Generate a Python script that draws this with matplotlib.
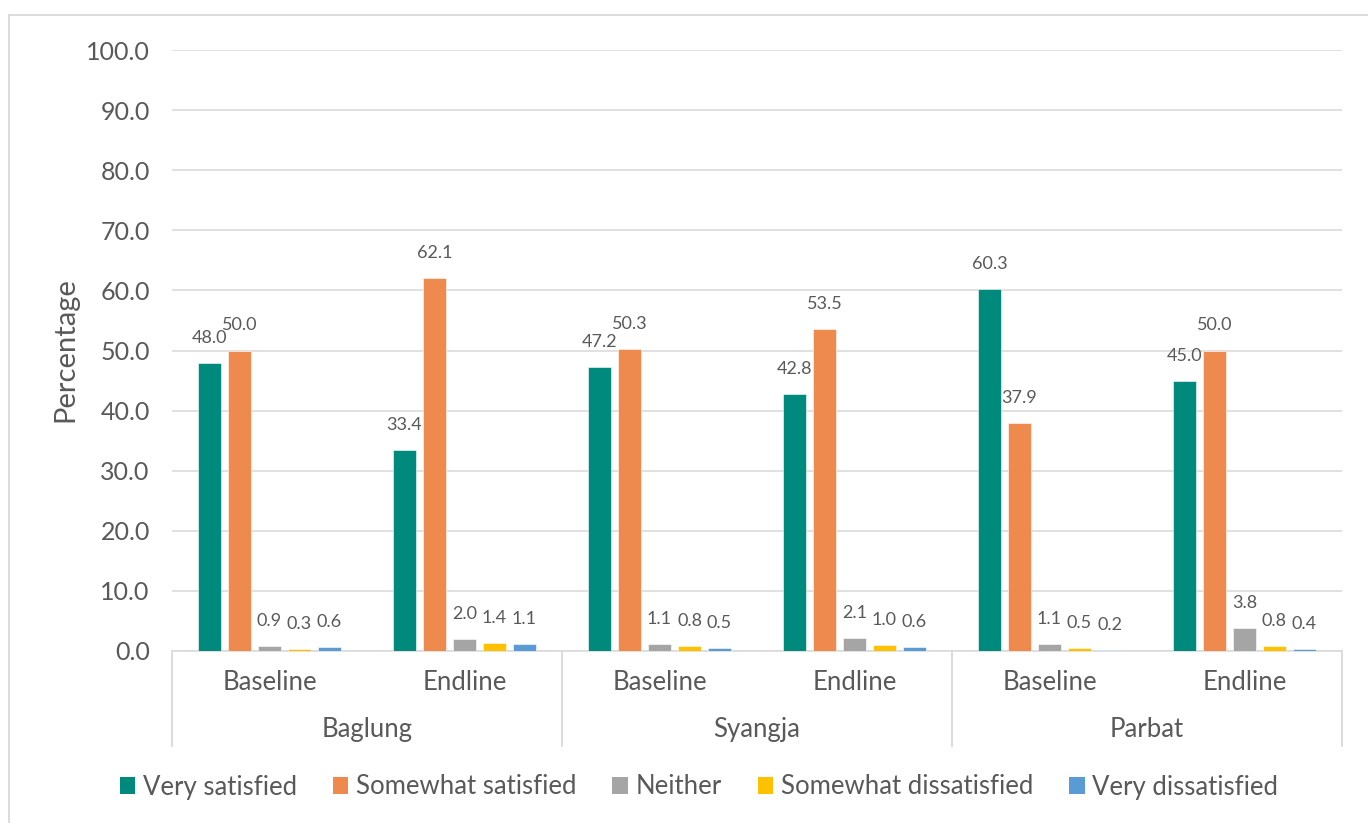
import matplotlib
matplotlib.use("Agg")
import matplotlib.pyplot as plt
from matplotlib.lines import Line2D
from matplotlib.patches import Patch
import matplotlib.transforms as mtransforms
import numpy as np

# ---- data -------------------------------------------------------------
districts = ["Baglung", "Syangja", "Parbat"]
rounds = ["Baseline", "Endline"]
series_names = ["Very satisfied", "Somewhat satisfied", "Neither",
                "Somewhat dissatisfied", "Very dissatisfied"]

very_satisfied = [48.0, 33.4, 47.2, 42.8, 60.3, 45.0]
somewhat_satisfied = [50.0, 62.1, 50.3, 53.5, 37.9, 50.0]
neither = [0.9, 2.0, 1.1, 2.1, 1.1, 3.8]
somewhat_dissatisfied = [0.3, 1.4, 0.8, 1.0, 0.5, 0.8]
very_dissatisfied = [0.6, 1.1, 0.5, 0.6, 0.2, 0.4]

y_ticks = [0, 10, 20, 30, 40, 50, 60, 70, 80, 90, 100]

# ---- style ------------------------------------------------------------
colors = ["#00897D", "#EE8A4E", "#A5A5A5", "#FFC000", "#5B9BD5"]
text_color = "#595959"
grid_color = "#D9D9D9"
plt.rcParams["font.family"] = ["Lato", "DejaVu Sans"]

fig = plt.figure(figsize=(13.68, 8.23), dpi=100)
ax = fig.add_axes([172 / 1368, 1 - 651 / 823, 1170 / 1368, 601 / 823])

all_series = [very_satisfied, somewhat_satisfied, neither,
              somewhat_dissatisfied, very_dissatisfied]
n_cat = len(districts) * len(rounds)
x = np.arange(n_cat)
slot = 30 / 195
width = 23.5 / 195

for i, (vals, name, col) in enumerate(zip(all_series, series_names, colors)):
    xs = x + (i - 2) * slot
    ax.bar(xs, vals, width=width, color=col, edgecolor="white",
           linewidth=0.4, label=name, zorder=3)
    for xi, v in zip(xs, vals):
        ax.annotate(f"{v:.1f}", (xi, v), xytext=(0, 18),
                    textcoords="offset points", ha="center", va="center",
                    fontsize=13, color=text_color, zorder=4)

ax.set_xlim(-0.5, n_cat - 0.5)
ax.set_ylim(0, 100)
ax.set_yticks(y_ticks)
ax.set_yticklabels([f"{t:.1f}" for t in y_ticks], fontsize=18, color=text_color)
ax.tick_params(axis="y", length=0, pad=16)
ax.set_xticks([])
ax.grid(axis="y", color=grid_color, linewidth=1.1, zorder=0)
for s in ax.spines.values():
    s.set_visible(False)

# category axis: baseline, sub-labels, group labels and separators
trans = mtransforms.blended_transform_factory(ax.transData, ax.transAxes)
ax.plot([-0.5, n_cat - 0.5], [0, 0], transform=trans, color=grid_color,
        linewidth=1.1, clip_on=False, zorder=2)
for k in range(len(districts) + 1):
    xb = -0.5 + k * len(rounds)
    ax.plot([xb, xb], [0, -0.158], transform=trans, color=grid_color,
            linewidth=1.3, clip_on=False)
for k, d in enumerate(districts):
    for j, r in enumerate(rounds):
        ax.text(k * len(rounds) + j, -0.053, r, transform=trans, ha="center",
                va="center", fontsize=18.5, color=text_color)
    ax.text(k * len(rounds) + (len(rounds) - 1) / 2, -0.131, d, transform=trans,
            ha="center", va="center", fontsize=18.5, color=text_color)

fig.text(65 / 1368, 1 - 350 / 823, "Percentage", rotation=90, ha="center",
         va="center", fontsize=21, color=text_color)

# legend
handles = [Patch(facecolor=c, edgecolor="none") for c in colors]
fig.legend(handles, series_names, loc="center", ncol=5,
           bbox_to_anchor=(699 / 1368, 1 - 787 / 823), frameon=False,
           fontsize=18.5, handlelength=0.6, handleheight=0.6,
           handletextpad=0.3, columnspacing=1.4, labelcolor=text_color)

# chart frame (top and left edges)
fig.add_artist(Line2D([8.5 / 1368, 1], [1 - 15 / 823, 1 - 15 / 823],
                      transform=fig.transFigure, color=grid_color, linewidth=1.3))
fig.add_artist(Line2D([8.5 / 1368, 8.5 / 1368], [0, 1 - 15 / 823],
                      transform=fig.transFigure, color=grid_color, linewidth=1.3))

fig.savefig("out.png", dpi=100)
